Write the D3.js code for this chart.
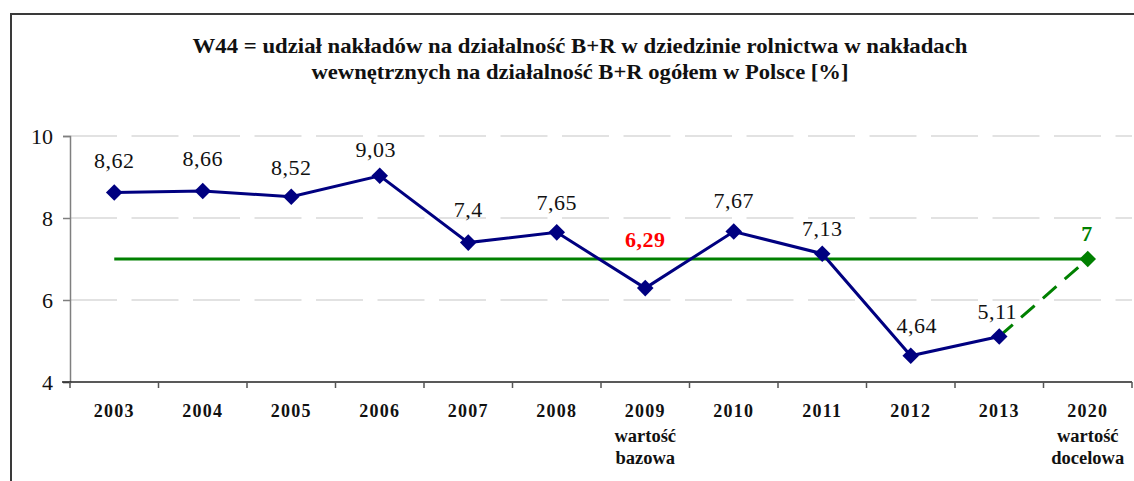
<!DOCTYPE html>
<html>
<head>
<meta charset="utf-8">
<script src="https://cdn.jsdelivr.net/npm/d3@7"></script>
<style>
  body { margin: 0; background: #fff; }
  svg text { font-family: "Liberation Serif", "DejaVu Serif", serif; }
</style>
</head>
<body>
<svg id="chart" width="1134" height="481"></svg>
<script>
//
// Data
//
var years = ['2003', '2004', '2005', '2006', '2007', '2008', '2009', '2010', '2011', '2012', '2013', '2020']
var subLabels = { '2009': ['wartość', 'bazowa'], '2020': ['wartość', 'docelowa'] }
var values = [8.62, 8.66, 8.52, 9.03, 7.4, 7.65, 6.29, 7.67, 7.13, 4.64, 5.11]
var targetValue = 7
var yTicks = [4, 6, 8, 10]
var titleLines = [
  'W44 = udział nakładów na działalność B+R w dziedzinie rolnictwa w nakładach',
  'wewnętrznych na działalność B+R ogółem w Polsce [%]'
]
var baseYear = '2009'

// label offsets (px) as placed in the original
var labelDy = [-25, -25, -22, -19, -26, -22, -41, -23.5, -18, -23, -17.5]
var labelDx = [0, 0, 0, -4, 0, 0, 0, 0, 0, 6, -2]

// colors
var colorLine = '#000080'
var colorTarget = '#008000'
var colorGrid = '#d9d9d9'

var svg = d3.select('#chart')
var margin = { left: 70, right: 1132, top: 136, bottom: 382 }

var x = d3.scaleBand().domain(years).range([margin.left, margin.right])
var y = d3.scaleLinear().domain([4, 10]).range([margin.bottom, margin.top])
var cx = function (d) { return x(d) + x.bandwidth() / 2 }
var fmt = function (v) { return String(v).replace('.', ',') }

// frame
svg.append('path')
  .attr('d', 'M11,481 V14 H1134')
  .attr('fill', 'none')
  .attr('stroke', '#3a3a3a')
  .attr('stroke-width', 2)

// title
titleLines.forEach(function (t, i) {
  svg.append('text')
    .attr('x', 580)
    .attr('y', 53 + i * 26)
    .attr('text-anchor', 'middle')
    .attr('font-size', 21)
    .attr('font-weight', 'bold')
    .attr('fill', '#111')
    .attr('textLength', i === 0 ? 775 : 537)
    .attr('lengthAdjust', 'spacingAndGlyphs')
    .text(t)
})

// grid
svg.append('g').selectAll('line')
  .data(yTicks.filter(function (t) { return t > 4 }))
  .enter().append('line')
  .attr('x1', margin.left).attr('x2', margin.right)
  .attr('y1', function (d) { return y(d) }).attr('y2', function (d) { return y(d) })
  .attr('stroke', colorGrid)
  .attr('stroke-width', 1.5)
  .attr('stroke-dasharray', '47,14.5')

// y axis
var yAxis = svg.append('g')
  .attr('transform', 'translate(' + margin.left + ',0)')
  .call(d3.axisLeft(y).tickValues(yTicks).tickSize(7).tickPadding(10).tickFormat(d3.format('d')))
yAxis.select('.domain').attr('stroke', '#7f7f7f').attr('stroke-width', 1.5)
yAxis.selectAll('.tick line').attr('stroke', '#7f7f7f').attr('stroke-width', 1.5)
yAxis.selectAll('.tick text')
  .attr('font-family', '"Liberation Serif", serif')
  .attr('font-size', 22)
  .attr('fill', '#111')

// x axis
var xAxisG = svg.append('g').attr('transform', 'translate(0,' + margin.bottom + ')')
xAxisG.append('line')
  .attr('x1', margin.left - 8).attr('x2', margin.right)
  .attr('stroke', '#222').attr('stroke-width', 1.5)
xAxisG.selectAll('line.tk')
  .data(years.concat(['end']))
  .enter().append('line')
  .attr('class', 'tk')
  .attr('x1', function (d, i) { return margin.left + i * x.bandwidth() })
  .attr('x2', function (d, i) { return margin.left + i * x.bandwidth() })
  .attr('y1', 0).attr('y2', 6)
  .attr('stroke', '#555').attr('stroke-width', 1.5)

xAxisG.selectAll('text.yr')
  .data(years)
  .enter().append('text')
  .attr('class', 'yr')
  .attr('x', cx)
  .attr('y', 35)
  .attr('text-anchor', 'middle')
  .attr('font-size', 18)
  .attr('font-weight', 'bold')
  .attr('letter-spacing', 1.2)
  .attr('fill', '#111')
  .text(function (d) { return d })

years.forEach(function (d) {
  if (!subLabels[d]) return
  subLabels[d].forEach(function (s, i) {
    xAxisG.append('text')
      .attr('x', cx(d))
      .attr('y', 60 + i * 22)
      .attr('text-anchor', 'middle')
      .attr('font-size', 18.5)
      .attr('font-weight', 'bold')
      .attr('fill', '#111')
      .text(s)
  })
})

// target horizontal line
svg.append('line')
  .attr('x1', cx(years[0])).attr('x2', cx(years[years.length - 1]))
  .attr('y1', y(targetValue)).attr('y2', y(targetValue))
  .attr('stroke', colorTarget).attr('stroke-width', 3)

// dashed path to target
var lastYear = years[values.length - 1]
svg.append('line')
  .attr('x1', cx(lastYear)).attr('y1', y(values[values.length - 1]))
  .attr('x2', cx(years[years.length - 1])).attr('y2', y(targetValue))
  .attr('stroke', colorTarget).attr('stroke-width', 3)
  .attr('stroke-dasharray', '18,11')

// main series
var line = d3.line()
  .x(function (d, i) { return cx(years[i]) })
  .y(function (d) { return y(d) })

svg.append('path')
  .datum(values)
  .attr('d', line)
  .attr('fill', 'none')
  .attr('stroke', colorLine)
  .attr('stroke-width', 3)

var diamond = d3.symbol().type(d3.symbolDiamond2).size(175)
svg.append('g').selectAll('path')
  .data(values)
  .enter().append('path')
  .attr('d', diamond)
  .attr('transform', function (d, i) { return 'translate(' + cx(years[i]) + ',' + y(d) + ')' })
  .attr('fill', colorLine)

svg.append('path')
  .attr('d', diamond)
  .attr('transform', 'translate(' + cx(years[years.length - 1]) + ',' + y(targetValue) + ')')
  .attr('fill', colorTarget)

// data labels
svg.append('g').selectAll('text')
  .data(values)
  .enter().append('text')
  .attr('x', function (d, i) { return cx(years[i]) + labelDx[i] })
  .attr('y', function (d, i) { return y(d) + labelDy[i] })
  .attr('text-anchor', 'middle')
  .attr('font-size', 22)
  .attr('letter-spacing', 0.5)
  .attr('font-weight', function (d, i) { return years[i] === baseYear ? 'bold' : 'normal' })
  .attr('fill', function (d, i) { return years[i] === baseYear ? '#ff0000' : '#111' })
  .text(fmt)

svg.append('text')
  .attr('x', cx(years[years.length - 1]) - 1)
  .attr('y', y(targetValue) - 18)
  .attr('text-anchor', 'middle')
  .attr('font-size', 22)
  .attr('font-weight', 'bold')
  .attr('fill', colorTarget)
  .text(fmt(targetValue))
</script>
</body>
</html>
